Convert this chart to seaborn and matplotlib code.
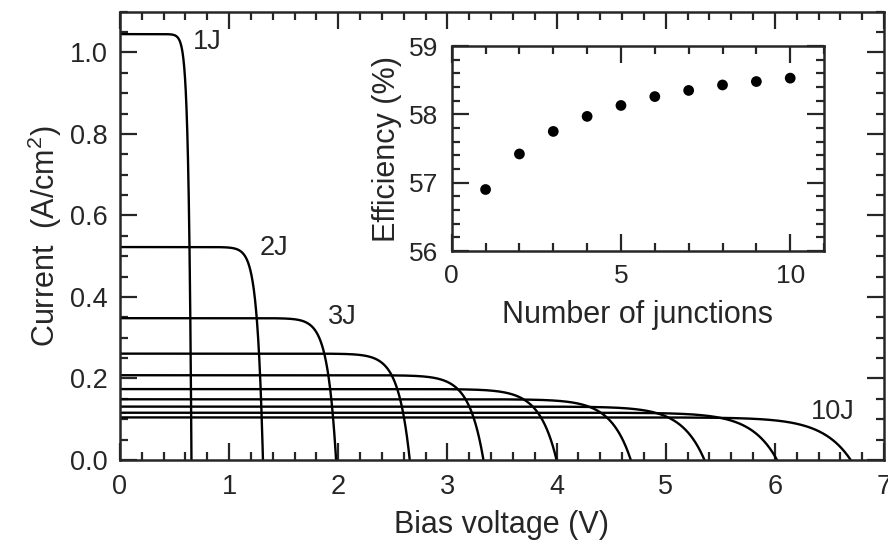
import numpy as np
import pandas as pd
import matplotlib
matplotlib.use("Agg")
import matplotlib.pyplot as plt
import seaborn as sns
from matplotlib.ticker import MultipleLocator

# ---- data ----
junctions = [1, 2, 3, 4, 5, 6, 7, 8, 9, 10]
isc = [1.045, 0.5225, 0.348, 0.261, 0.208, 0.174, 0.149, 0.131, 0.116, 0.1045]   # A/cm^2
voc = [0.655, 1.31, 1.98, 2.655, 3.33, 4.0, 4.68, 5.355, 6.02, 6.695]            # V
vt_per_junction = 0.026  # diode knee width per junction (V)

efficiency = [56.90, 57.42, 57.75, 57.97, 58.13, 58.26, 58.35, 58.43, 58.48, 58.53]

curve_labels = {1: (0.80, 1.025, "1J"), 2: (1.41, 0.52, "2J"), 3: (2.04, 0.352, "3J"), 10: (6.53, 0.118, "10J")}

# ---- build J-V curves (ideal diode shape through the read Isc/Voc) ----
rows = []
for n, i0, v0 in zip(junctions, isc, voc):
    a = vt_per_junction * n
    v = np.linspace(0, v0, 3000)
    j = i0 * (1 - np.exp((v - v0) / a)) / (1 - np.exp(-v0 / a))
    rows.append(pd.DataFrame({"V": v, "J": j, "n": n}))
df = pd.concat(rows, ignore_index=True)
eff_df = pd.DataFrame({"N": junctions, "eff": efficiency})

sns.set_style("ticks")
plt.rcParams["font.family"] = ["Liberation Sans", "DejaVu Sans"]
plt.rcParams["mathtext.fontset"] = "custom"
plt.rcParams["mathtext.rm"] = "Liberation Sans"
plt.rcParams["mathtext.it"] = "Liberation Sans"

fig = plt.figure(figsize=(8.88, 5.44), dpi=100)
ax = fig.add_axes([0.1351, 0.1544, 0.8604, 0.8241])

sns.lineplot(data=df, x="V", y="J", hue="n", units="n", estimator=None,
             palette=["black"] * len(junctions), legend=False, linewidth=1.7,
             sort=False, ax=ax)

ax.set_xlim(0, 7)
ax.set_ylim(0, 1.1)
ax.xaxis.set_major_locator(MultipleLocator(1))
ax.xaxis.set_minor_locator(MultipleLocator(0.2))
ax.yaxis.set_major_locator(MultipleLocator(0.2))
ax.yaxis.set_minor_locator(MultipleLocator(0.05))
ax.set_yticklabels([f"{t:.1f}" for t in ax.get_yticks()])
ax.tick_params(which="both", direction="in", top=True, right=True, width=1.6, labelsize=19.5)
ax.tick_params(which="major", length=12)
ax.tick_params(which="minor", length=6)
ax.tick_params(axis="x", pad=10)
ax.tick_params(axis="y", pad=9)
for s in ax.spines.values():
    s.set_linewidth(1.8)
ax.set_xlabel("Bias voltage (V)", fontsize=22, labelpad=7)
ax.set_ylabel(r"Current  (A/cm$^{2}$)", fontsize=22, labelpad=4)

for n, (x, y, t) in curve_labels.items():
    ax.text(x, y, t, fontsize=19.5, ha="center", va="center")

# ---- inset ----
ins = fig.add_axes([0.5087, 0.5386, 0.4193, 0.3768])
sns.scatterplot(data=eff_df, x="N", y="eff", color="black", s=60, edgecolor="none", ax=ins)
ins.set_xlim(0, 11)
ins.set_ylim(56, 59)
ins.xaxis.set_major_locator(MultipleLocator(5))
ins.xaxis.set_minor_locator(MultipleLocator(1))
ins.yaxis.set_major_locator(MultipleLocator(1))
ins.yaxis.set_minor_locator(MultipleLocator(0.2))
ins.tick_params(which="both", direction="in", top=True, right=True, width=1.6, labelsize=19)
ins.tick_params(which="major", length=12)
ins.tick_params(which="minor", length=6)
ins.tick_params(axis="x", pad=9)
ins.tick_params(axis="y", pad=10)
for s in ins.spines.values():
    s.set_linewidth(1.8)
ins.set_xlabel("Number of junctions", fontsize=22, labelpad=9)
ins.set_ylabel("Efficiency (%)", fontsize=22, labelpad=5)

fig.savefig("out.png", dpi=100)
